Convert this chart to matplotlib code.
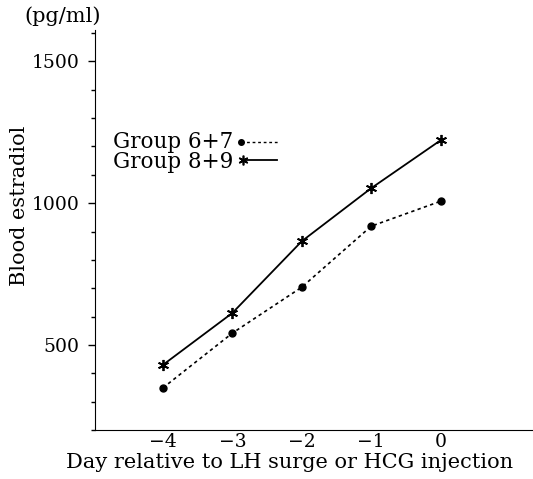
import matplotlib.pyplot as plt
from matplotlib.ticker import MultipleLocator

plt.rcParams['font.family'] = ['DejaVu Serif']

# days relative to LH surge / HCG injection
days = [-4, -3, -2, -1, 0]

# blood estradiol (pg/ml)
group_67 = [349, 542, 704, 919, 1007]
group_89 = [430, 613, 866, 1053, 1222]

labels = ['Group 6+7', 'Group 8+9']

fig = plt.figure(figsize=(5.33, 4.79), dpi=100)
ax = fig.add_axes([0.178, 0.102, 0.822, 0.835])

# the two series
ax.plot(days, group_67, color='black', lw=1.2, linestyle=(0, (2, 2)),
        marker='o', markersize=5)
ax.plot(days, group_89, color='black', lw=1.3, linestyle='-',
        marker=(6, 2, 0), markersize=8, mew=1.3)

ax.set_xlim(-4.98, 1.33)
ax.set_ylim(200, 1610)

ax.spines['top'].set_visible(False)
ax.spines['right'].set_visible(False)

ax.set_xticks(days)
ax.set_xticklabels(['\u22124', '\u22123', '\u22122', '\u22121', '0'])
ax.tick_params(axis='x', length=0, pad=2, labelsize=13.5)

ax.set_yticks([500, 1000, 1500])
ax.yaxis.set_minor_locator(MultipleLocator(100))
ax.tick_params(axis='y', which='major', length=5, width=1, pad=6, labelsize=13.5)
ax.tick_params(axis='y', which='minor', length=3, width=1)

ax.set_xlabel('Day relative to LH surge or HCG injection', fontsize=15)
ax.xaxis.set_label_coords(0.445, -0.058)
ax.set_ylabel('Blood estradiol', fontsize=15)
ax.yaxis.set_label_coords(-0.15, 0.56)

ax.text(-0.073, 1.035, '(pg/ml)', transform=ax.transAxes,
        ha='center', va='center', fontsize=15)

# hand-made legend, handle to the right of the label
ax.text(0.315, 0.72, labels[0], transform=ax.transAxes,
        ha='right', va='center', fontsize=15.5)
ax.plot([0.333, 0.418], [0.72, 0.72], transform=ax.transAxes,
        color='black', lw=1.0, linestyle=(0, (2, 2)))
ax.plot([0.333], [0.72], transform=ax.transAxes, color='black',
        marker='o', markersize=4)

ax.text(0.315, 0.67, labels[1], transform=ax.transAxes,
        ha='right', va='center', fontsize=15.5)
ax.plot([0.338, 0.416], [0.675, 0.675], transform=ax.transAxes,
        color='black', lw=1.3)
ax.plot([0.338], [0.675], transform=ax.transAxes, color='black',
        marker=(6, 2, 0), markersize=7, mew=1.2)

plt.savefig('out.png', dpi=100)
plt.close()
